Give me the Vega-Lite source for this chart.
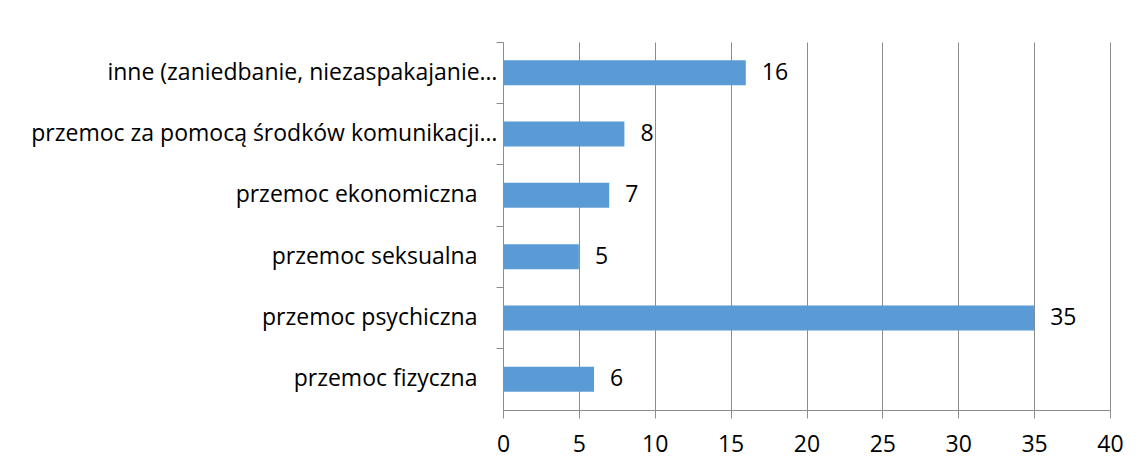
{
  "$schema": "https://vega.github.io/schema/vega-lite/v6.json",
  "autosize": "none",
  "width": 607,
  "height": 368,
  "padding": {"left": 503, "top": 42, "right": 30, "bottom": 59},
  "background": "white",
  "config": {
    "view": {"stroke": null},
    "font": "Open Sans"
  },
  "data": {
    "values": [
      {"kategoria": "inne (zaniedbanie, niezaspakajanie…", "liczba": 16},
      {"kategoria": "przemoc za pomocą środków komunikacji…", "liczba": 8},
      {"kategoria": "przemoc ekonomiczna", "liczba": 7},
      {"kategoria": "przemoc seksualna", "liczba": 5},
      {"kategoria": "przemoc psychiczna", "liczba": 35},
      {"kategoria": "przemoc fizyczna", "liczba": 6}
    ]
  },
  "encoding": {
    "y": {
      "field": "kategoria",
      "type": "nominal",
      "sort": null,
      "scale": {"paddingInner": 0, "paddingOuter": 0},
      "axis": {
        "title": null,
        "bandPosition": 0,
        "labelFont": "Open Sans",
        "labelFontSize": 23,
        "labelColor": "#000000",
        "labelPadding": {"condition": {"test": "indexof(datum.label, '…') >= 0", "value": -1}, "value": 19},
        "labelLimit": 0,
        "tickSize": 7,
        "tickColor": "#8c8c8c",
        "domainColor": "#8c8c8c",
        "grid": false
      }
    },
    "x": {
      "field": "liczba",
      "type": "quantitative",
      "scale": {"domain": [0, 40], "nice": false},
      "axis": {
        "title": null,
        "values": [0, 5, 10, 15, 20, 25, 30, 35, 40],
        "labelFont": "Open Sans",
        "labelFontSize": 23,
        "labelColor": "#000000",
        "labelPadding": 15,
        "labelFlush": false,
        "tickSize": 8,
        "tickColor": "#8c8c8c",
        "domainColor": "#8c8c8c",
        "gridColor": "#8c8c8c",
        "gridWidth": 1,
        "grid": true
      }
    }
  },
  "layer": [
    {"mark": {"type": "bar", "color": "#5b9bd5", "size": 25}},
    {
      "mark": {"type": "text", "align": "left", "baseline": "middle", "dx": 16, "fontSize": 23, "font": "Open Sans", "color": "#000000"},
      "encoding": {"text": {"field": "liczba", "type": "quantitative"}}
    }
  ]
}
